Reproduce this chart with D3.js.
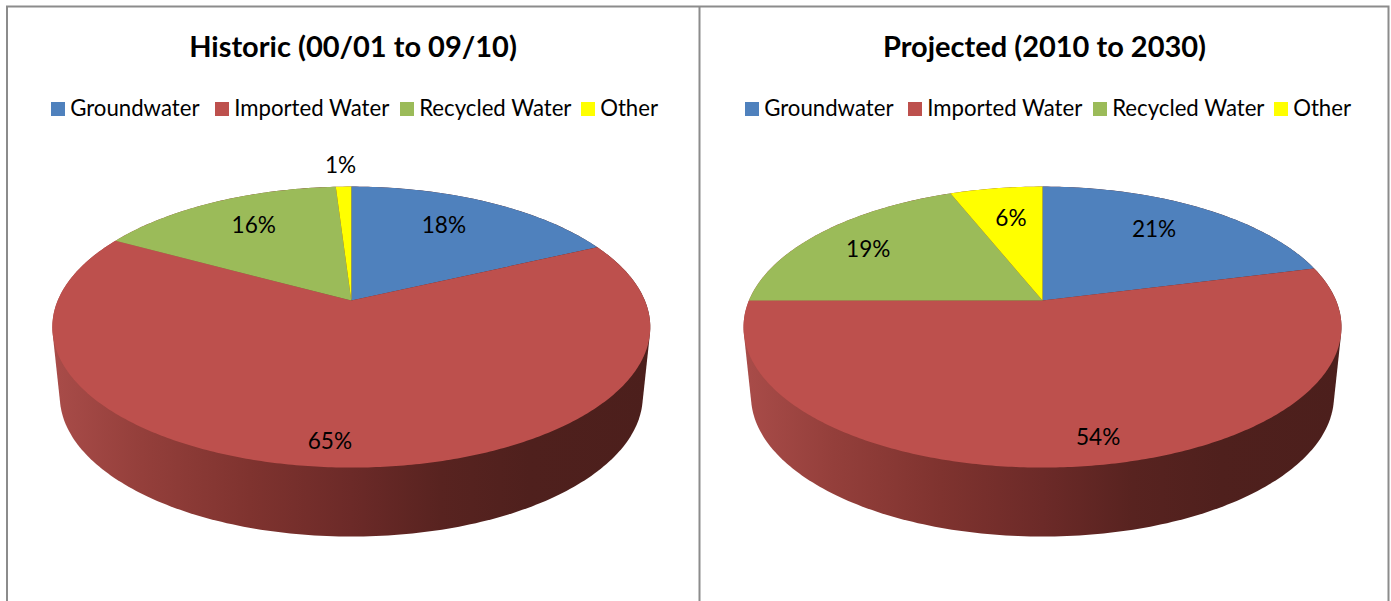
<!DOCTYPE html>
<html><head><meta charset="utf-8">
<script src="https://cdn.jsdelivr.net/npm/d3@7"></script>
<style>html,body{margin:0;padding:0;background:#fff}svg{display:block}text{font-family:Lato,"Open Sans",sans-serif;fill:#000}</style>
</head><body><svg id="c" width="1391" height="601"></svg>
<script>
const categories = ["Groundwater","Imported Water","Recycled Water","Other"];
const historicValues = [18,65,16,1];
const projectedValues = [21,54,19,6];
const titles = ["Historic (00/01 to 09/10)","Projected (2010 to 2030)"];

const colors = ["#4f81bd","#bd504d","#9bbb59","#ffff00"];
const svg = d3.select("#c");
const defs = svg.append("defs");

// perspective parameters of the tilted disc
const K = 0.1886, A = 135.5, B = 293.6, depth = 69, shrink = 0.975, CY = 300.6;
const project = (cx, cy, bw, ang, r = 1) => {
  const u = r*Math.sin(ang), v = r*Math.cos(ang), w = 1 + K*v;
  return [cx + bw*u/w, cy - A*v/w];
};
const line = d3.line();
const TAU = Math.PI*2;

const panels = [
  {values: historicValues, title: titles[0], cx: 351.3, tx: 353,
   legendX: [51,215,400,581], nudges: [[-6.5,-3],[-14,32],[1.5,-3],[-5,-51]]},
  {values: projectedValues, title: titles[1], cx: 1042.5, tx: 1044.5,
   legendX: [745,908,1093,1274], nudges: [[-2.5,-3],[26,29],[-16,-1],[2.5,0]]}
];

// frame
const frame = svg.append("g").attr("stroke","#8c8c8c").attr("fill","none");
frame.append("path").attr("stroke-width",2).attr("d","M7,601V6.5H1388.5V601M699.5,6.5V601");

const pie = d3.pie().sort(null).startAngle(0).endAngle(TAU);

panels.forEach((p,pi) => {
  const g = svg.append("g");
  g.append("text").attr("x",p.tx).attr("y",57).attr("text-anchor","middle")
    .attr("font-size",29).attr("font-weight",700).text(p.title);

  const leg = g.selectAll("g.l").data(categories).join("g").attr("class","l")
    .attr("transform",(d,i)=>`translate(${p.legendX[i]},102)`);
  leg.append("rect").attr("width",14).attr("height",14).attr("fill",(d,i)=>colors[i]);
  leg.append("text").attr("x",19.2).attr("y",14).attr("font-size",22.2).text(d=>d);

  // side wall: hull of the top and bottom rims
  const angles = d3.range(0,360,1).map(d=>d*Math.PI/180);
  const top = angles.map(a=>project(p.cx,CY,B,a));
  const bot = angles.map(a=>project(p.cx,CY+depth,B*shrink,a));
  const id = "wall"+pi;
  const xs = d3.scaleLinear().domain([0,.15,.33,.5,.65,.8,1]).range(["#a94c49","#943f3b","#7f332f","#6c2a28","#582320","#4f201d","#4c1f1c"]);
  const gr = defs.append("linearGradient").attr("id",id).attr("gradientUnits","userSpaceOnUse")
    .attr("x1",p.cx-299).attr("x2",p.cx+299).attr("y1",0).attr("y2",0);
  xs.domain().forEach(t=>gr.append("stop").attr("offset",t).attr("stop-color",xs(t)));
  g.append("path").attr("d",line(d3.polygonHull(top.concat(bot)))+"Z").attr("fill",`url(#${id})`);

  // slices of the top face
  const arcs = pie(p.values);
  g.selectAll("path.s").data(arcs).join("path").attr("class","s")
    .attr("fill",(d,i)=>colors[i])
    .attr("d",d=>{
      const n = Math.max(4,Math.ceil((d.endAngle-d.startAngle)*90));
      const pts = d3.range(n+1).map(i=>project(p.cx,CY,B,d.startAngle+(d.endAngle-d.startAngle)*i/n));
      return line([project(p.cx,CY,B,0,0),...pts])+"Z";
    });

  // percentage labels
  g.selectAll("text.v").data(arcs).join("text").attr("class","v")
    .attr("text-anchor","middle").attr("font-size",22.6)
    .attr("x",(d,i)=>project(p.cx,300,B,(d.startAngle+d.endAngle)/2,.7)[0]+p.nudges[i][0])
    .attr("y",(d,i)=>project(p.cx,300,B,(d.startAngle+d.endAngle)/2,.7)[1]+p.nudges[i][1]+8)
    .text(d=>d.data+"%");
});
</script></body></html>
